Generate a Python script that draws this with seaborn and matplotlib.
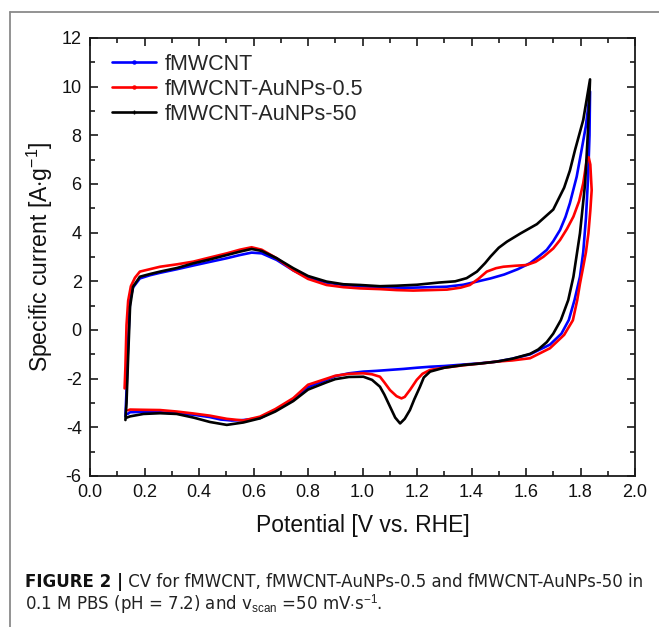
import matplotlib
matplotlib.use("Agg")
import matplotlib.pyplot as plt
from matplotlib.lines import Line2D
from matplotlib.ticker import MultipleLocator, FormatStrFormatter
import pandas as pd
import seaborn as sns

# ---- data: cyclic voltammograms (anodic sweep, then cathodic sweep) ----
samples = ["fMWCNT", "fMWCNT-AuNPs-0.5", "fMWCNT-AuNPs-50"]
colors = ["#0000ff", "#ff0000", "#000000"]

cnt_fwd_v = [0.130, 0.134, 0.140, 0.147, 0.158, 0.183, 0.220, 0.257, 0.320, 0.379,
             0.440, 0.502, 0.550, 0.593, 0.630, 0.685, 0.746, 0.800, 0.868, 0.930,
             0.991, 1.064, 1.125, 1.186, 1.250, 1.309, 1.370, 1.420, 1.470, 1.520,
             1.570, 1.615, 1.650, 1.676, 1.700, 1.725, 1.745, 1.761, 1.786, 1.804,
             1.820, 1.835]
cnt_fwd_i = [-3.55, -2.50, -0.50, 1.20, 1.75, 2.12, 2.25, 2.35, 2.50, 2.65,
             2.80, 2.95, 3.08, 3.18, 3.15, 2.88, 2.45, 2.15, 1.95, 1.85,
             1.80, 1.76, 1.74, 1.74, 1.76, 1.78, 1.86, 1.99, 2.12, 2.28,
             2.50, 2.75, 3.05, 3.29, 3.65, 4.11, 4.65, 5.21, 6.30, 7.40,
             8.40, 9.80]
cnt_rev_v = [1.835, 1.833, 1.828, 1.820, 1.810, 1.798, 1.778, 1.757, 1.730, 1.688,
             1.615, 1.550, 1.492, 1.430, 1.370, 1.300, 1.248, 1.200, 1.150, 1.100,
             1.050, 1.003, 0.950, 0.900, 0.868, 0.800, 0.746, 0.680, 0.624, 0.563,
             0.520, 0.480, 0.440, 0.379, 0.318, 0.257, 0.196, 0.147, 0.138]
cnt_rev_i = [9.80, 8.00, 6.30, 4.60, 3.20, 2.19, 1.23, 0.41, -0.15, -0.60,
             -1.00, -1.18, -1.30, -1.37, -1.42, -1.48, -1.51, -1.55, -1.60, -1.64,
             -1.68, -1.71, -1.78, -1.90, -2.05, -2.35, -2.85, -3.30, -3.62, -3.70,
             -3.72, -3.68, -3.58, -3.48, -3.43, -3.38, -3.36, -3.38, -3.45]

au05_fwd_v = [0.127, 0.130, 0.134, 0.140, 0.150, 0.165, 0.183, 0.220, 0.257, 0.320,
              0.379, 0.440, 0.502, 0.550, 0.593, 0.630, 0.685, 0.746, 0.800, 0.868,
              0.930, 0.991, 1.064, 1.125, 1.186, 1.250, 1.310, 1.360, 1.394, 1.425,
              1.456, 1.490, 1.517, 1.560, 1.602, 1.635, 1.664, 1.700, 1.725, 1.750,
              1.774, 1.795, 1.810, 1.823, 1.830]
au05_fwd_i = [-2.40, -1.50, 0.20, 1.20, 1.80, 2.15, 2.40, 2.50, 2.60, 2.70,
              2.81, 2.98, 3.15, 3.30, 3.40, 3.30, 2.95, 2.45, 2.10, 1.85,
              1.76, 1.71, 1.68, 1.64, 1.62, 1.64, 1.66, 1.74, 1.85, 2.10,
              2.40, 2.54, 2.60, 2.64, 2.67, 2.80, 3.01, 3.35, 3.70, 4.15,
              4.66, 5.30, 6.03, 6.99, 7.10]
au05_rev_v = [1.836, 1.841, 1.836, 1.829, 1.820, 1.810, 1.798, 1.788, 1.772, 1.740,
              1.688, 1.615, 1.550, 1.492, 1.430, 1.370, 1.300, 1.248, 1.220, 1.199,
              1.175, 1.155, 1.143, 1.125, 1.101, 1.080, 1.064, 1.035, 1.003, 0.950,
              0.900, 0.868, 0.800, 0.746, 0.680, 0.624, 0.563, 0.502, 0.440, 0.379,
              0.318, 0.257, 0.196, 0.147, 0.140]
au05_rev_i = [6.80, 5.75, 4.90, 3.97, 3.20, 2.60, 1.90, 1.23, 0.40, -0.20,
              -0.75, -1.16, -1.25, -1.30, -1.38, -1.45, -1.55, -1.64, -1.80, -2.05,
              -2.45, -2.75, -2.81, -2.72, -2.47, -2.15, -1.92, -1.82, -1.78, -1.80,
              -1.88, -2.00, -2.25, -2.80, -3.25, -3.56, -3.72, -3.65, -3.52, -3.43,
              -3.35, -3.29, -3.28, -3.27, -3.30]

au50_fwd_v = [0.130, 0.134, 0.140, 0.147, 0.158, 0.183, 0.220, 0.257, 0.320, 0.379,
              0.440, 0.502, 0.550, 0.593, 0.630, 0.685, 0.746, 0.800, 0.868, 0.930,
              0.991, 1.064, 1.125, 1.200, 1.280, 1.340, 1.382, 1.420, 1.450, 1.470,
              1.500, 1.530, 1.580, 1.640, 1.700, 1.740, 1.761, 1.780, 1.810, 1.835]
au50_fwd_i = [-3.70, -3.00, -1.10, 0.96, 1.78, 2.19, 2.30, 2.40, 2.55, 2.74,
              2.90, 3.08, 3.22, 3.33, 3.25, 2.95, 2.54, 2.22, 1.99, 1.88,
              1.85, 1.80, 1.82, 1.86, 1.95, 2.00, 2.13, 2.40, 2.75, 3.02,
              3.38, 3.63, 3.97, 4.35, 4.95, 5.85, 6.55, 7.40, 8.63, 10.30]
au50_rev_v = [1.835, 1.828, 1.817, 1.798, 1.774, 1.755, 1.728, 1.700, 1.676, 1.645,
              1.615, 1.550, 1.492, 1.430, 1.370, 1.300, 1.248, 1.225, 1.211, 1.190,
              1.174, 1.155, 1.138, 1.120, 1.101, 1.080, 1.064, 1.035, 1.003, 0.950,
              0.900, 0.868, 0.800, 0.746, 0.680, 0.624, 0.563, 0.502, 0.440, 0.380,
              0.318, 0.257, 0.196, 0.147, 0.135]
au50_rev_i = [10.30, 8.30, 6.03, 3.97, 2.19, 1.23, 0.41, -0.15, -0.50, -0.80,
              -0.98, -1.18, -1.30, -1.38, -1.44, -1.55, -1.71, -1.95, -2.33, -2.85,
              -3.29, -3.65, -3.84, -3.60, -3.15, -2.65, -2.33, -2.05, -1.92, -1.93,
              -2.02, -2.15, -2.45, -2.92, -3.35, -3.63, -3.80, -3.90, -3.78, -3.60,
              -3.45, -3.42, -3.45, -3.55, -3.60]

x_ticks_major, x_ticks_minor = 0.2, 0.1
y_ticks_major, y_ticks_minor = 2, 1

# ---- style ----
sns.set_theme(style="ticks")
plt.rcParams["font.family"] = ["Liberation Sans", "DejaVu Sans"]
plt.rcParams["mathtext.fontset"] = "custom"
plt.rcParams["mathtext.rm"] = "Liberation Sans"
plt.rcParams["mathtext.it"] = "Liberation Sans:italic"
plt.rcParams["mathtext.bf"] = "Liberation Sans:bold"
plt.rcParams["axes.unicode_minus"] = False

W, H = 659, 627
fig = plt.figure(figsize=(W / 100, H / 100), dpi=100)
fig.patch.set_facecolor("white")
ax = fig.add_axes([90 / W, 1 - 476 / H, 545 / W, 438 / H])

frames = []
for name, fv, fi, rv, ri in [
    (samples[0], cnt_fwd_v, cnt_fwd_i, cnt_rev_v, cnt_rev_i),
    (samples[1], au05_fwd_v, au05_fwd_i, au05_rev_v, au05_rev_i),
    (samples[2], au50_fwd_v, au50_fwd_i, au50_rev_v, au50_rev_i),
]:
    v = fv + rv
    i = fi + ri
    frames.append(pd.DataFrame({"sample": name, "step": range(len(v)),
                                "potential": v, "current": i}))
df = pd.concat(frames, ignore_index=True)

sns.lineplot(data=df, x="potential", y="current", hue="sample",
             hue_order=samples, palette=colors, sort=False, estimator=None,
             linewidth=1.9, legend=False, ax=ax)

ax.set_xlim(0, 2.0)
ax.set_ylim(-6, 12)
ax.xaxis.set_major_locator(MultipleLocator(x_ticks_major))
ax.xaxis.set_minor_locator(MultipleLocator(x_ticks_minor))
ax.yaxis.set_major_locator(MultipleLocator(y_ticks_major))
ax.yaxis.set_minor_locator(MultipleLocator(y_ticks_minor))
ax.xaxis.set_major_formatter(FormatStrFormatter("%.1f"))
ax.yaxis.set_major_formatter(FormatStrFormatter("%d"))

axis_col = "#1a1a1a"
for s in ax.spines.values():
    s.set_visible(True)
    s.set_linewidth(1.3)
    s.set_color(axis_col)
ax.tick_params(which="both", direction="in", top=True, right=True,
               width=1.2, color=axis_col, labelcolor="#111111",
               labelsize=13, pad=6)
ax.tick_params(which="major", length=6)
ax.tick_params(which="minor", length=3.5)

ax.set_xlabel("Potential [V vs. RHE]", fontsize=16.5, labelpad=9, color="#111111")
ax.set_ylabel("Specific current [A$\\cdot$g$^{-1}$]", fontsize=16.5, labelpad=5,
              color="#111111")

handles = [Line2D([], [], color=c, lw=1.9, marker=m, markersize=ms)
           for c, m, ms in zip(colors, ["o", "o", "+"], [2.2, 2.2, 3.5])]
ax.legend(handles, samples, loc="upper left",
          bbox_to_anchor=(22 / 545, 1 - 16 / 438), frameon=False, fontsize=15.5,
          handlelength=2.05, handletextpad=0.38, labelspacing=0.18,
          borderpad=0, borderaxespad=0)

# ---- page frame ----
frame_col = "#8a8a8a"
fig.add_artist(Line2D([10 / W, 10 / W], [0, 1 - 12 / H], transform=fig.transFigure,
                      color=frame_col, lw=1.3))
fig.add_artist(Line2D([10 / W, 1], [1 - 12 / H, 1 - 12 / H], transform=fig.transFigure,
                      color=frame_col, lw=1.3))

# ---- caption ----
cap_font = ["DejaVu Sans"]
cap_col = "#222222"
cap_left, cap_width = 25, 620
line1_bold = "FIGURE 2 |"
line1_rest = " CV for fMWCNT, fMWCNT-AuNPs-0.5 and fMWCNT-AuNPs-50 in"
line2 = "0.1 M PBS (pH = 7.2) and v$_{\\mathrm{scan}}$ =50 mV$\\cdot$s$^{-1}$."
renderer = fig.canvas.get_renderer()


def draw_caption(size):
    y1 = 1 - 587 / H
    y2 = 1 - 609 / H
    t1 = fig.text(cap_left / W, y1, line1_bold, fontsize=size, fontweight="bold",
                  family=cap_font, color="#111111", va="baseline")
    bb = t1.get_window_extent(renderer)
    t2 = fig.text(bb.x1 / W, y1, line1_rest, fontsize=size, family=cap_font,
                  color=cap_col, va="baseline")
    t3 = fig.text(cap_left / W, y2, line2, fontsize=size, family=cap_font,
                  color=cap_col, va="baseline")
    return [t1, t2, t3]


texts = draw_caption(10)
span = texts[1].get_window_extent(renderer).x1 - cap_left
for t in texts:
    t.remove()
draw_caption(10 * cap_width / span)

fig.savefig("out.png", dpi=100, facecolor="white")
